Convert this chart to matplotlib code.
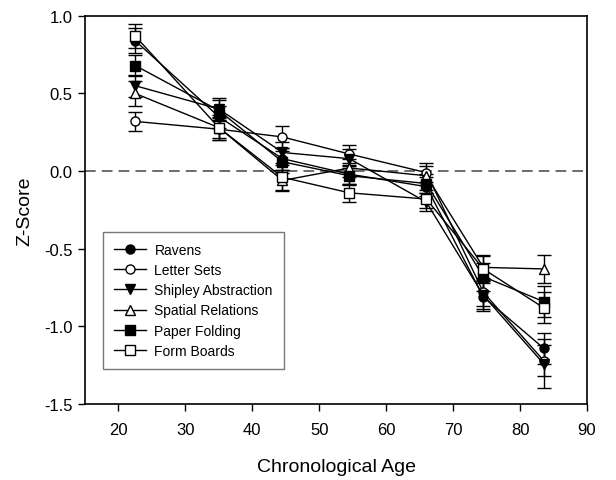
import matplotlib
matplotlib.use("Agg")
import matplotlib.pyplot as plt
from matplotlib.lines import Line2D

plt.rcParams['font.family'] = ['Liberation Sans', 'DejaVu Sans']

ages = [22.5, 35, 44.5, 54.5, 66, 74.5, 83.5]

ravens = [0.84, 0.35, 0.08, -0.02, -0.10, -0.81, -1.14]
ravens_err = [0.08, 0.07, 0.07, 0.06, 0.06, 0.09, 0.10]
letter_sets = [0.32, 0.27, 0.22, 0.11, -0.01, -0.78, -1.22]
letter_err = [0.06, 0.07, 0.07, 0.06, 0.06, 0.09, 0.10]
shipley = [0.55, 0.40, 0.12, 0.08, -0.20, -0.80, -1.24]
shipley_err = [0.07, 0.07, 0.07, 0.06, 0.06, 0.09, 0.16]
spatial = [0.50, 0.28, -0.06, 0.02, -0.03, -0.62, -0.63]
spatial_err = [0.08, 0.07, 0.07, 0.06, 0.06, 0.08, 0.09]
paper = [0.68, 0.39, 0.06, -0.03, -0.08, -0.68, -0.84]
paper_err = [0.07, 0.07, 0.07, 0.06, 0.06, 0.09, 0.10]
form = [0.87, 0.28, -0.04, -0.14, -0.18, -0.63, -0.88]
form_err = [0.08, 0.08, 0.08, 0.06, 0.06, 0.08, 0.10]

series = [
    ("Ravens", ravens, ravens_err, 'o', 'black'),
    ("Letter Sets", letter_sets, letter_err, 'o', 'white'),
    ("Shipley Abstraction", shipley, shipley_err, 'v', 'black'),
    ("Spatial Relations", spatial, spatial_err, '^', 'white'),
    ("Paper Folding", paper, paper_err, 's', 'black'),
    ("Form Boards", form, form_err, 's', 'white'),
]

fig = plt.figure(figsize=(6.16, 4.81), dpi=100)
ax = fig.add_axes([0.138, 0.158, 0.815, 0.807])

ax.axhline(0, color='#444444', lw=1.1, ls=(0, (7, 4)), zorder=1)

handles = []
for name, vals, errs, mk, fc in series:
    ax.errorbar(ages, vals, yerr=errs, color='black', lw=1.0, marker=mk,
                markersize=6.5, markerfacecolor=fc, markeredgecolor='black',
                markeredgewidth=1.0, capsize=5, capthick=1.0, elinewidth=1.0,
                zorder=3)
    handles.append(Line2D([], [], color='black', lw=1.0, marker=mk, markersize=6.5,
                          markerfacecolor=fc, markeredgecolor='black',
                          markeredgewidth=1.0, label=name))

ax.set_xlim(15, 90)
ax.set_ylim(-1.5, 1.0)
ax.set_xticks([20, 30, 40, 50, 60, 70, 80, 90])
ax.set_yticks([-1.5, -1.0, -0.5, 0.0, 0.5, 1.0])
ax.set_yticklabels(['-1.5', '-1.0', '-0.5', '0.0', '0.5', '1.0'])
ax.tick_params(direction='out', length=5, width=1.0, labelsize=12, pad=4)
ax.tick_params(axis='x', pad=8)
for s in ax.spines.values():
    s.set_linewidth(1.2)

ax.set_xlabel("Chronological Age", fontsize=14, labelpad=15)
ax.set_ylabel("Z-Score", fontsize=14, labelpad=8)

leg = ax.legend(handles=handles, loc='lower left', bbox_to_anchor=(0.036, 0.09),
                fontsize=10, frameon=True, fancybox=False, edgecolor='#555555',
                handlelength=2.3, handletextpad=0.6, borderpad=0.8, labelspacing=0.45,
                borderaxespad=0)
leg.get_frame().set_linewidth(1.0)

fig.savefig("out.png", dpi=100)
